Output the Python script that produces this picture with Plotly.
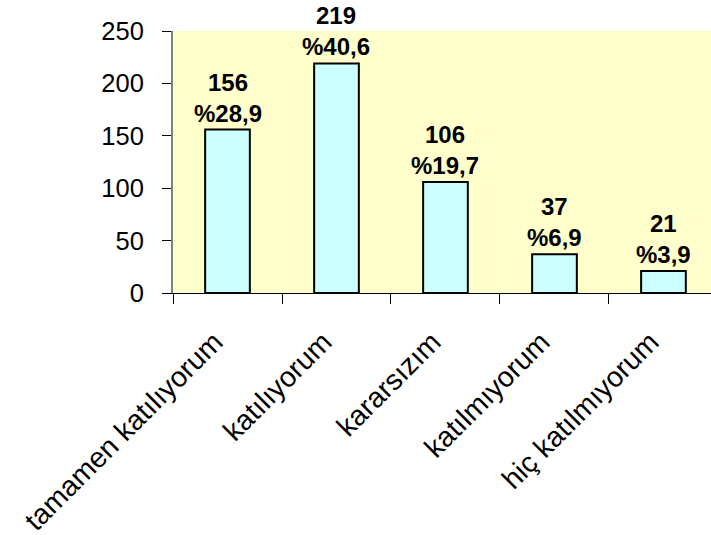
import plotly.graph_objects as go

# Survey responses: counts and percentage shares per answer
categories = ["tamamen katılıyorum", "katılıyorum", "kararsızım", "katılmıyorum", "hiç katılmıyorum"]
counts = [156, 219, 106, 37, 21]
percents = ["%28,9", "%40,6", "%19,7", "%6,9", "%3,9"]
y_ticks = [0, 50, 100, 150, 200, 250]

FONT = "Liberation Sans, Arial, sans-serif"

fig = go.Figure(
    go.Bar(
        x=categories,
        y=counts,
        width=0.41,
        marker=dict(color="#CCFFFF", line=dict(color="black", width=2)),
        hoverinfo="skip",
    )
)

# Count and share stacked above each bar
for cat, n, pct in zip(categories, counts, percents):
    fig.add_annotation(
        x=cat, y=n, text=f"{n}<br>{pct}",
        showarrow=False, yanchor="bottom", yshift=1,
        font=dict(family=FONT, size=24, color="black", weight="bold"),
    )

fig.update_layout(
    width=711, height=535,
    margin=dict(l=173, r=0, t=31, b=242),
    paper_bgcolor="white",
    plot_bgcolor="#FFFFCC",
    showlegend=False,
    font=dict(family=FONT, color="black"),
    xaxis=dict(
        type="category",
        range=[-0.5, 4.436],
        tickson="boundaries",
        ticks="outside", ticklen=10, tickcolor="black", tickwidth=1,
        showline=True, linecolor="black", linewidth=1,
        tickangle=-45,
        tickfont=dict(size=28.5, family=FONT),
        ticklabelstandoff=20,
        ticklabelshift=-13,
        showgrid=False, zeroline=False,
    ),
    yaxis=dict(
        range=[0, 250],
        tickvals=y_ticks,
        ticks="outside", ticklen=9, tickcolor="black", tickwidth=1,
        showline=True, linecolor="#808080", linewidth=2,
        tickfont=dict(size=25.5, family=FONT),
        ticklabelstandoff=13,
        showgrid=False, zeroline=False,
    ),
)

fig.write_html("out.html")
